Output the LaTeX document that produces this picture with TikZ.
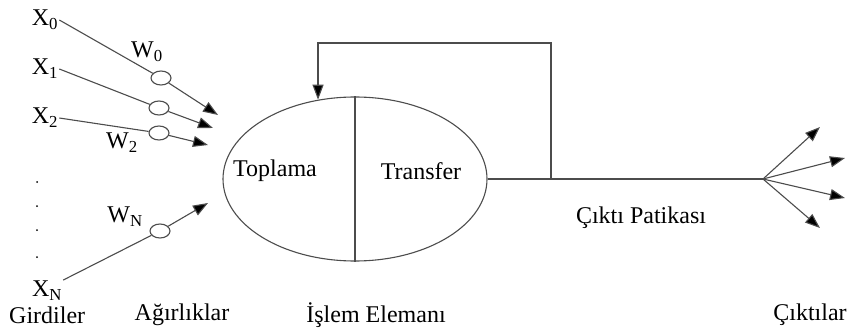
\documentclass[tikz,border=0pt]{standalone}
\usepackage{fontspec}
\setmainfont{Liberation Serif}
\usetikzlibrary{arrows.meta, shapes.geometric}

\begin{document}
\begin{tikzpicture}[x=1pt, y=-1pt,
    font=\fontsize{24}{28}\selectfont,
    >={Triangle[length=15pt, width=11pt, fill=black]},
    line/.style={draw=black!70, line width=1.1pt},
    weight/.style={ellipse, draw=black!70, line width=1.1pt, fill=white,
        minimum width=20pt, minimum height=14pt, inner sep=0pt},
    txt/.style={inner sep=1pt}]

\useasboundingbox (0,0) rectangle (850,331);

% Islem elemani (neuron)
\node[ellipse, draw=black!70, line width=1.1pt, minimum width=264pt,
      minimum height=164pt, inner sep=0pt] (neuron) at (355,179) {};
\draw[line] (neuron.north) -- (neuron.south);
\node[txt] (sum) at (275,171) {Toplama};
\node[txt] (transfer) at (421,171) {Transfer};

% Girdiler
\node[txt] (x0) at (45,20) {X\textsubscript{0}};
\node[txt] (x1) at (45,69) {X\textsubscript{1}};
\node[txt] (x2) at (45,118) {X\textsubscript{2}};
\node[txt] (xn) at (47,291) {X\textsubscript{N}};
\foreach \y in {182,206,230,257}
    \fill (37,\y) circle (1pt);

% Agirliklar
\node[weight] (w0) at (161,78) {};
\node[weight] (w1) at (159,108) {};
\node[weight] (w2) at (159,133) {};
\node[weight] (wn) at (160,231) {};
\node[txt] (lw0) at (147,52) {W\textsubscript{0}};
\node[txt] (lw2) at (122,143) {W\textsubscript{2}};
\node[txt] (lwn) at (125,217) {W\textsubscript{N}};

% Ok uclari
\coordinate (t0) at (218,115);
\coordinate (t1) at (213,128);
\coordinate (t2) at (208,145);
\coordinate (tn) at (208,203);

\draw[line] (x0.east) -- (w0);
\draw[line] (x1.east) -- (w1);
\draw[line] (x2.east) -- (w2);
\draw[line] (xn.north east) -- (wn);
\draw[line, ->] (w0) -- (t0);
\draw[line, ->] (w1) -- (t1);
\draw[line, ->] (w2) -- (t2);
\draw[line, ->] (wn) -- (tn);

% Cikti patikasi ve geri besleme
\coordinate (tap) at (551,179);
\coordinate (fbtop) at (551,43);
\coordinate (split) at (763,179);
\draw[line] (neuron.east) -- (split);
\draw[line, ->] (tap) -- (fbtop) -| (neuron.115);
\node[txt] (path) at (641,218) {Çıktı Patikası};

% Ciktilar
\coordinate (o1) at (820,127);
\coordinate (o2) at (845,158);
\coordinate (o3) at (845,198);
\coordinate (o4) at (820,228);
\foreach \o in {o1,o2,o3,o4}
    \draw[line, ->] (split) -- (\o);

% Alt basliklar
\node[txt, anchor=west] (inputs) at (8,315) {Girdiler};
\node[txt] (weights) at (182,315) {Ağırlıklar};
\node[txt] (element) at (376,315) {İşlem Elemanı};
\node[txt] (outputs) at (810,315) {Çıktılar};

\end{tikzpicture}
\end{document}
